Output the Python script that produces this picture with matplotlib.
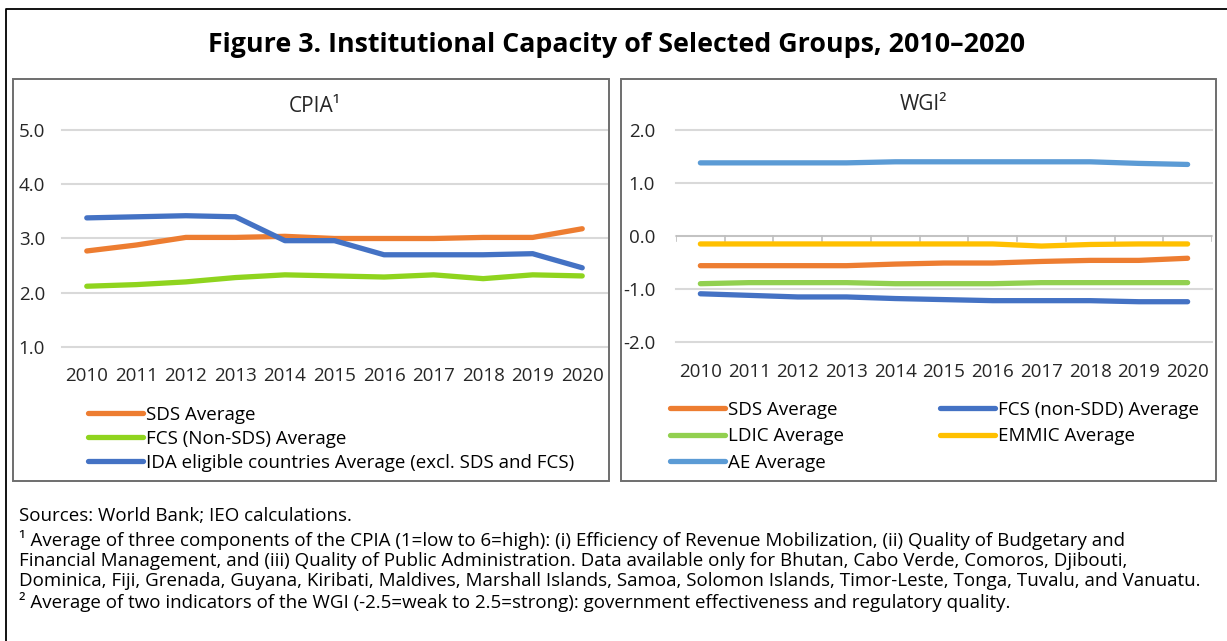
import matplotlib.pyplot as plt
from matplotlib.patches import Rectangle
from matplotlib.lines import Line2D

plt.rcParams['font.family'] = ['Open Sans', 'DejaVu Sans']

W, H = 1227, 641

years = [str(y) for y in range(2010, 2021)]

# CPIA (1=low to 6=high)
cpia_sds = [2.77, 2.88, 3.02, 3.02, 3.04, 3.00, 3.00, 3.00, 3.02, 3.02, 3.18]
cpia_fcs = [2.12, 2.15, 2.20, 2.28, 2.33, 2.31, 2.29, 2.33, 2.26, 2.33, 2.31]
cpia_ida = [3.38, 3.40, 3.42, 3.40, 2.96, 2.96, 2.70, 2.70, 2.70, 2.72, 2.46]
cpia_ticks = [1.0, 2.0, 3.0, 4.0, 5.0]

# WGI (-2.5 to 2.5)
wgi_ae = [1.38, 1.38, 1.38, 1.38, 1.40, 1.40, 1.40, 1.40, 1.40, 1.37, 1.35]
wgi_emmic = [-0.15, -0.15, -0.15, -0.15, -0.15, -0.15, -0.15, -0.19, -0.16, -0.15, -0.15]
wgi_sds = [-0.56, -0.56, -0.56, -0.56, -0.53, -0.51, -0.51, -0.48, -0.46, -0.46, -0.42]
wgi_ldic = [-0.90, -0.88, -0.88, -0.88, -0.90, -0.90, -0.90, -0.88, -0.88, -0.88, -0.88]
wgi_fcs = [-1.09, -1.12, -1.15, -1.15, -1.18, -1.20, -1.22, -1.22, -1.22, -1.24, -1.24]
wgi_ticks = [-2.0, -1.0, 0.0, 1.0, 2.0]

ORANGE = '#ED7D31'
GREEN = '#8FD41E'
GREEN2 = '#92D050'
BLUE = '#4472C4'
LBLUE = '#5B9BD5'
GOLD = '#FFC000'
GRID = '#D9D9D9'
LW = 3.8
FS = 13.5


def px(x0, y_top, x1, y_bot):
    """pixel box -> figure fraction rect"""
    return [x0 / W, 1 - y_bot / H, (x1 - x0) / W, (y_bot - y_top) / H]


fig = plt.figure(figsize=(W / 100, H / 100), dpi=100)

# outer frame (left and top only visible)
fig.add_artist(Line2D([6 / W, 6 / W, 1.0], [0.0, 1 - 9 / H, 1 - 9 / H],
                      transform=fig.transFigure, color='black', lw=1.3))

# panel boxes
for x0, x1 in [(13, 609), (621, 1216)]:
    r = px(x0, 79, x1, 481)
    fig.add_artist(Rectangle((r[0], r[1]), r[2], r[3], transform=fig.transFigure,
                             fill=False, edgecolor='#6E6E6E', lw=1.4))

fig.text(617 / W, 1 - 45 / H, 'Figure 3. Institutional Capacity of Selected Groups, 2010\u20132020',
         ha='center', va='center', fontsize=19.3, fontweight='bold')


def style_axes(ax, ticks, xlab_pad, ylab_pad):
    ax.set_ylim(ticks[0], ticks[-1])
    ax.set_xlim(-0.5, len(years) - 0.5)
    ax.set_yticks(ticks)
    ax.set_yticklabels(['%.1f' % t for t in ticks], fontsize=FS, color='#262626')
    ax.set_xticks(range(len(years)))
    ax.set_xticklabels(years, fontsize=FS, color='#262626')
    ax.tick_params(axis='both', length=0)
    ax.tick_params(axis='x', pad=xlab_pad)
    ax.tick_params(axis='y', pad=ylab_pad)
    for s in ax.spines.values():
        s.set_visible(False)
    for t in ticks:
        ax.axhline(t, color=GRID, lw=1.5, zorder=0, clip_on=False)
    ax.patch.set_alpha(0)


# ---- CPIA ----
ax1 = fig.add_axes(px(62, 130, 607, 347))
ax1.plot(years, cpia_sds, color=ORANGE, lw=LW, solid_capstyle='round', label='SDS Average')
ax1.plot(years, cpia_fcs, color=GREEN, lw=LW, solid_capstyle='round', label='FCS (Non-SDS) Average')
ax1.plot(years, cpia_ida, color=BLUE, lw=LW, solid_capstyle='round',
         label='IDA eligible countries Average (excl. SDS and FCS)')
style_axes(ax1, cpia_ticks, 14.5, 12.2)
fig.text(315 / W, 1 - 106 / H, 'CPIA\u00b9', ha='center', va='center', fontsize=15, color='#262626')
ax1.legend(loc='upper left', bbox_to_anchor=(88 / W, 1 - 406 / H), bbox_transform=fig.transFigure,
           frameon=False, fontsize=FS, handlelength=2.95, handletextpad=0.15,
           labelspacing=0.31, borderaxespad=0, borderpad=0)

# ---- WGI ----
ax2 = fig.add_axes(px(676, 130, 1212, 342))
ax2.axhline(0, color='#BFBFBF', lw=1.2, zorder=1)
for b in range(len(years) + 1):
    ax2.plot([b - 0.5, b - 0.5], [0, -0.09], color='#BFBFBF', lw=1.2, zorder=1)
l_sds, = ax2.plot(years, wgi_sds, color=ORANGE, lw=LW, solid_capstyle='round', label='SDS Average')
l_fcs, = ax2.plot(years, wgi_fcs, color=BLUE, lw=LW, solid_capstyle='round', label='FCS (non-SDD) Average')
l_ldic, = ax2.plot(years, wgi_ldic, color=GREEN2, lw=LW, solid_capstyle='round', label='LDIC Average')
l_em, = ax2.plot(years, wgi_emmic, color=GOLD, lw=LW, solid_capstyle='round', label='EMMIC Average')
l_ae, = ax2.plot(years, wgi_ae, color=LBLUE, lw=LW, solid_capstyle='round', label='AE Average')
style_axes(ax2, wgi_ticks, 15, 15)
fig.text(923 / W, 1 - 104 / H, 'WGI\u00b2', ha='center', va='center', fontsize=15, color='#262626')
ax2.legend(handles=[l_sds, l_ldic, l_ae, l_fcs, l_em], ncol=2, loc='upper left',
           bbox_to_anchor=(670 / W, 1 - 401 / H), bbox_transform=fig.transFigure,
           frameon=False, fontsize=FS, handlelength=2.95, handletextpad=0.15,
           labelspacing=0.45, columnspacing=5.1, borderaxespad=0, borderpad=0)

# ---- notes ----
notes = [
    'Sources: World Bank; IEO calculations.',
    '\u00b9 Average of three components of the CPIA (1=low to 6=high): (i) Efficiency of Revenue Mobilization, (ii) Quality of Budgetary and',
    'Financial Management, and (iii) Quality of Public Administration. Data available only for Bhutan, Cabo Verde, Comoros, Djibouti,',
    'Dominica, Fiji, Grenada, Guyana, Kiribati, Maldives, Marshall Islands, Samoa, Solomon Islands, Timor-Leste, Tonga, Tuvalu, and Vanuatu.',
    '\u00b2 Average of two indicators of the WGI (-2.5=weak to 2.5=strong): government effectiveness and regulatory quality.',
]
note_y = [516, 540, 561, 581.5, 602]
for txt, y in zip(notes, note_y):
    fig.text(19 / W, 1 - y / H, txt, ha='left', va='center', fontsize=FS)

fig.savefig('out.png', dpi=100)
